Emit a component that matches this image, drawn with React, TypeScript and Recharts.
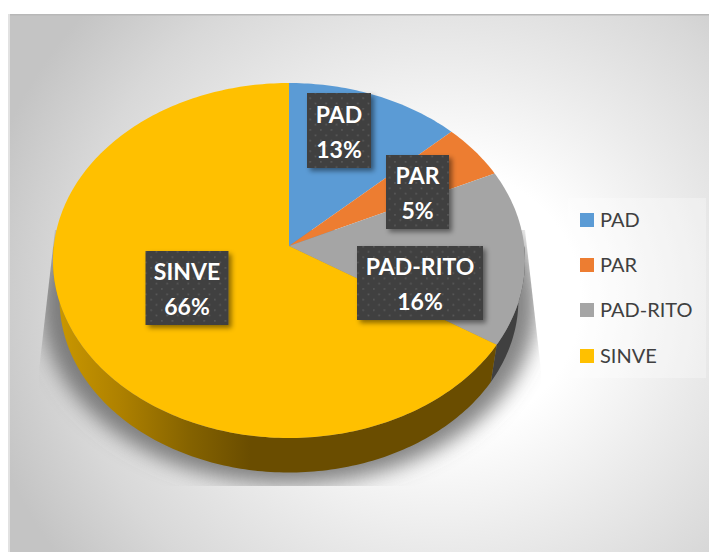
import React from "react";
import { PieChart, Pie, Legend } from "recharts";

const categories = ["PAD", "PAR", "PAD-RITO", "SINVE"];
const shares = [13, 5, 16, 66];
const palette = ["#5B9BD5", "#ED7D31", "#A5A5A5", "#FFC000"];
const wallShades = ["#2f5d8a", "#8f4a1a", "#404040", "url(#sinveWall)"];

// Label box centres, measured from the pie's hub, with box sizes.
const labelBoxes = [
  { dx: 50, dy: -115.5, w: 64, h: 75 },
  { dx: 128.5, dy: -54, w: 63, h: 74 },
  { dx: 131, dy: 37, w: 126, h: 74 },
  { dx: -102, dy: 42, w: 83, h: 74 },
];

const rows = categories.map((name, i) => ({ name, value: shares[i], fill: palette[i] }));

const WIDTH = 709;
const HEIGHT = 552;
const HUB_X = 289;
const HUB_Y = 246;

// The disc is tilted: a projective map keeps the hub above the rim ellipse's centre.
const RIM_A = 235.2;
const RIM_B = 176.3;
const TILT = 0.0817;
const RIM_CY = 260.5;
const LOWER_SCALE = 0.972;
const LOWER_CY = 300;

const project = (clockwise: number) => {
  const r = (clockwise * Math.PI) / 180;
  const u = Math.sin(r);
  const v = Math.cos(r);
  const d = 1 + TILT * v;
  return { x: HUB_X + (RIM_A * u) / d, y: HUB_Y - (RIM_B * v) / d };
};

const lowerRim = (p: { x: number; y: number }) => ({
  x: HUB_X + (p.x - HUB_X) * LOWER_SCALE,
  y: LOWER_CY + (p.y - RIM_CY) * LOWER_SCALE,
});

const arcPoints = (from: number, to: number) => {
  const pts = [];
  const n = Math.max(2, Math.ceil(Math.abs(to - from)));
  for (let i = 0; i <= n; i++) pts.push(project(from + ((to - from) * i) / n));
  return pts;
};

const toPath = (pts: { x: number; y: number }[]) =>
  pts.map((p, i) => `${i ? "L" : "M"}${p.x.toFixed(2)} ${p.y.toFixed(2)}`).join(" ") + " Z";

const TiltedSlice = (props: any) => {
  const from = 90 - props.startAngle;
  const to = 90 - props.endAngle;
  const index = categories.indexOf(props.name);
  const wallFrom = Math.max(from, 90);
  const wallTo = Math.min(to, 270);
  const rim = arcPoints(wallFrom, wallTo);
  return (
    <g>
      {wallTo > wallFrom && (
        <path d={toPath([...rim, ...rim.map(lowerRim).reverse()])} fill={wallShades[index]} />
      )}
      <path d={toPath([{ x: HUB_X, y: HUB_Y }, ...arcPoints(from, to)])} fill={props.fill} />
    </g>
  );
};

const DataLabel = (props: any) => {
  const index = categories.indexOf(props.name);
  const box = labelBoxes[index];
  const cx = HUB_X + box.dx;
  const cy = HUB_Y + box.dy;
  return (
    <g>
      <rect
        x={cx - box.w / 2}
        y={cy - box.h / 2}
        width={box.w}
        height={box.h}
        fill="url(#labelDots)"
        filter="url(#labelShadow)"
      />
      <text x={cx} y={cy - 8} textAnchor="middle" fill="#fff" fontFamily="Lato" fontWeight={700} fontSize={23}>
        {props.name}
      </text>
      <text x={cx} y={cy + 27} textAnchor="middle" fill="#fff" fontFamily="Lato" fontWeight={700} fontSize={23}>
        {`${props.value}%`}
      </text>
    </g>
  );
};

const LegendList = ({ payload }: any) => (
  <div style={{ width: 138, height: 180, background: "rgba(255,255,255,0.3)", fontFamily: "Lato", fontSize: 20, color: "#404040" }}>
    {(payload || []).map((item: any, i: number) => (
      <div key={item.value} style={{ position: "absolute", left: 12, top: 15 + i * 45.2, display: "flex", alignItems: "center", height: 14 }}>
        <span style={{ width: 14, height: 14, background: item.color, marginRight: 6, flex: "none" }} />
        <span style={{ whiteSpace: "nowrap", position: "relative", top: -1 }}>{item.value}</span>
      </div>
    ))}
  </div>
);

export default function App() {
  return (
    <div style={{ position: "absolute", left: 0, top: 0, width: WIDTH, height: HEIGHT, overflow: "hidden", background: "#fff" }}>
      <PieChart width={WIDTH} height={HEIGHT} margin={{ top: 0, right: 0, bottom: 0, left: 0 }}>
        <defs>
          <radialGradient
            id="panelGlow"
            gradientUnits="userSpaceOnUse"
            cx={0}
            cy={0}
            r={1}
            gradientTransform="translate(440 300) scale(470 440)"
          >
            <stop offset="0.3" stopColor="#ffffff" />
            <stop offset="0.55" stopColor="#ebebeb" />
            <stop offset="0.8" stopColor="#d8d8d8" />
            <stop offset="1" stopColor="#c4c4c4" />
          </radialGradient>
          <linearGradient id="sinveWall" gradientUnits="userSpaceOnUse" x1={53} y1={0} x2={250} y2={0}>
            <stop offset="0" stopColor="#cc9900" />
            <stop offset="0.35" stopColor="#ad8000" />
            <stop offset="0.7" stopColor="#846200" />
            <stop offset="1" stopColor="#6a4d00" />
          </linearGradient>
          <pattern id="labelDots" patternUnits="userSpaceOnUse" width={10.6} height={10.6}>
            <rect width={10.6} height={10.6} fill="#404040" />
            <rect x={2} y={2} width={1.6} height={1.6} fill="#5c5c5c" />
            <rect x={7.3} y={7.3} width={1.6} height={1.6} fill="#5c5c5c" />
          </pattern>
          <filter id="labelShadow" x="-20%" y="-20%" width="150%" height="150%">
            <feDropShadow dx={3} dy={3} stdDeviation={2.5} floodColor="#000" floodOpacity={0.45} />
          </filter>
          <filter id="discBlur" x="-20%" y="-20%" width="140%" height="140%">
            <feGaussianBlur stdDeviation={10} />
          </filter>
          <clipPath id="shadowClip">
            <polygon points="55,230 39,370 39,486 541,486 541,370 525,230" />
          </clipPath>
        </defs>
        <rect x={9} y={14} width={700} height={538} fill="url(#panelGlow)" />
        <rect x={9} y={14} width={700} height={1.5} fill="#b8b8b8" />
        <rect x={8} y={14} width={2} height={538} fill="#e2e2e2" />
        <g clipPath="url(#shadowClip)">
          <ellipse cx={289} cy={304} rx={248} ry={180} fill="#666666" fillOpacity={0.8} filter="url(#discBlur)" />
        </g>
        <Pie
          data={rows}
          dataKey="value"
          nameKey="name"
          cx={HUB_X}
          cy={HUB_Y}
          outerRadius={RIM_B}
          startAngle={90}
          endAngle={-270}
          stroke="none"
          shape={TiltedSlice}
          label={DataLabel}
          labelLine={false}
          isAnimationActive={false}
        />
        <Legend
          content={LegendList}
          itemSorter={null}
          wrapperStyle={{ position: "absolute", left: 568, top: 198, width: 138, height: 180, bottom: "auto", right: "auto" }}
        />
      </PieChart>
    </div>
  );
}
